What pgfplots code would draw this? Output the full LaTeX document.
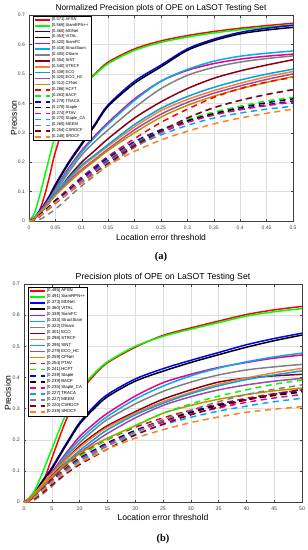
\documentclass[border=0pt]{standalone}
\usepackage{pgfplots}
\usepackage{pgfplotstable}
\pgfplotsset{compat=1.18}
\usepackage{fontspec}
\setmainfont{Liberation Sans}
\newfontfamily\serif{Liberation Serif}

\definecolor{cdred}{RGB}{136,0,21}
\definecolor{corange}{RGB}{255,127,39}
\definecolor{clblue}{RGB}{0,162,232}
\definecolor{cpurple}{RGB}{163,73,164}
\definecolor{cgold}{RGB}{191,144,0}
\definecolor{cgray}{rgb}{0.5,0.5,0.5}

% Normalized precision (a)
\pgfplotstableread{
x     afsn  siamrpn mdnet vital siamfc struct dsiam sint  strcf eco   ecohc cfnet hcft  bacf  traca staple ptav  stapleca meem  csrdcf srdcf
0     0     0       0     0     0      0      0     0     0     0     0     0     0     0     0     0      0     0        0     0      0
0.01  0.005 0.025   0.012 0.010 0.010  0.010  0.010 0.008 0.010 0.010 0.008 0.010 0.005 0.005 0.005 0.005  0.005 0.004    0.000 0.003  0.004
0.02  0.035 0.085   0.035 0.030 0.030  0.028  0.027 0.025 0.030 0.030 0.027 0.027 0.020 0.020 0.020 0.020  0.018 0.017    0.005 0.015  0.017
0.03  0.090 0.155   0.060 0.055 0.055  0.050  0.048 0.045 0.050 0.050 0.046 0.045 0.035 0.035 0.035 0.035  0.033 0.030    0.015 0.030  0.030
0.04  0.160 0.225   0.090 0.085 0.080  0.077  0.073 0.067 0.072 0.072 0.068 0.066 0.052 0.052 0.052 0.051  0.049 0.046    0.027 0.045  0.046
0.05  0.235 0.290   0.125 0.120 0.110  0.105  0.100 0.090 0.095 0.095 0.090 0.087 0.070 0.070 0.070 0.068  0.065 0.062    0.040 0.060  0.062
0.075 0.370 0.395   0.200 0.195 0.180  0.175  0.165 0.150 0.140 0.145 0.135 0.130 0.110 0.105 0.105 0.100  0.100 0.097    0.080 0.095  0.095
0.1   0.455 0.455   0.265 0.260 0.240  0.235  0.225 0.200 0.185 0.190 0.175 0.170 0.150 0.145 0.145 0.140  0.140 0.135    0.120 0.130  0.130
0.125 0.500 0.497   0.330 0.325 0.290  0.285  0.270 0.240 0.220 0.225 0.210 0.205 0.185 0.178 0.180 0.172  0.172 0.168    0.155 0.163  0.160
0.15  0.540 0.535   0.395 0.390 0.335  0.330  0.310 0.280 0.255 0.260 0.245 0.240 0.220 0.210 0.215 0.205  0.205 0.200    0.190 0.195  0.190
0.2   0.585 0.580   0.475 0.468 0.415  0.410  0.385 0.350 0.320 0.328 0.310 0.300 0.280 0.265 0.270 0.260  0.260 0.253    0.250 0.255  0.237
0.25  0.612 0.607   0.530 0.524 0.475  0.475  0.450 0.405 0.375 0.383 0.363 0.353 0.335 0.310 0.310 0.305  0.300 0.293    0.300 0.305  0.275
0.3   0.630 0.625   0.585 0.580 0.512  0.515  0.495 0.450 0.413 0.423 0.403 0.393 0.380 0.345 0.340 0.340  0.335 0.325    0.350 0.350  0.305
0.35  0.644 0.639   0.618 0.613 0.535  0.543  0.522 0.485 0.443 0.454 0.434 0.424 0.420 0.370 0.362 0.365  0.360 0.350    0.385 0.385  0.330
0.4   0.655 0.650   0.641 0.636 0.550  0.560  0.540 0.510 0.468 0.479 0.459 0.449 0.450 0.390 0.380 0.385  0.378 0.367    0.410 0.410  0.350
0.45  0.664 0.659   0.655 0.649 0.560  0.570  0.552 0.530 0.490 0.499 0.481 0.471 0.472 0.408 0.395 0.402  0.392 0.380    0.430 0.430  0.366
0.5   0.672 0.666   0.665 0.658 0.567  0.578  0.561 0.548 0.508 0.516 0.500 0.491 0.488 0.420 0.408 0.415  0.404 0.390    0.447 0.446  0.380
}\tabA

% Precision (b)
\pgfplotstableread{
x    afsn  siamrpn mdnet vital siamfc struct dsiam eco   strcf sint  ecohc cfnet ptav  hcft  staple bacf  stapleca traca meem  csrdcf srdcf
0    0     0       0     0     0      0      0     0     0     0     0     0     0     0     0      0     0        0     0     0      0
1    0.005 0.015   0.010 0.010 0.010  0.010  0.010 0.010 0.012 0.008 0.008 0.010 0.005 0.005 0.005  0.005 0.005    0.005 0.000 0.003  0.004
2    0.020 0.040   0.030 0.030 0.030  0.028  0.028 0.027 0.030 0.025 0.024 0.027 0.020 0.020 0.018  0.018 0.018    0.018 0.008 0.012  0.016
3    0.050 0.080   0.060 0.058 0.050  0.048  0.048 0.045 0.050 0.042 0.040 0.045 0.036 0.035 0.034  0.033 0.033    0.032 0.020 0.025  0.030
4    0.090 0.125   0.085 0.082 0.072  0.069  0.068 0.065 0.070 0.061 0.057 0.063 0.055 0.052 0.052  0.050 0.050    0.048 0.035 0.040  0.046
5    0.140 0.170   0.110 0.105 0.095  0.090  0.088 0.085 0.090 0.080 0.075 0.080 0.075 0.070 0.070  0.068 0.068    0.065 0.050 0.055  0.062
7.5  0.260 0.280   0.185 0.180 0.155  0.150  0.143 0.135 0.135 0.125 0.120 0.120 0.115 0.110 0.107  0.105 0.105    0.100 0.090 0.090  0.095
10   0.350 0.360   0.255 0.250 0.210  0.200  0.190 0.180 0.175 0.165 0.158 0.155 0.150 0.145 0.140  0.138 0.137    0.132 0.125 0.120  0.125
12.5 0.405 0.410   0.305 0.298 0.250  0.240  0.230 0.215 0.210 0.200 0.190 0.182 0.177 0.175 0.166  0.164 0.162    0.157 0.153 0.145  0.148
15   0.447 0.450   0.345 0.338 0.285  0.275  0.265 0.245 0.240 0.232 0.220 0.205 0.200 0.200 0.190  0.188 0.186    0.180 0.180 0.170  0.170
20   0.497 0.500   0.395 0.388 0.340  0.330  0.315 0.290 0.285 0.280 0.270 0.245 0.240 0.245 0.230  0.228 0.225    0.218 0.225 0.215  0.205
25   0.535 0.532   0.428 0.420 0.383  0.372  0.355 0.330 0.322 0.317 0.310 0.285 0.270 0.285 0.263  0.260 0.256    0.248 0.262 0.250  0.232
30   0.559 0.555   0.455 0.448 0.410  0.405  0.385 0.360 0.352 0.348 0.338 0.310 0.295 0.315 0.290  0.287 0.282    0.272 0.295 0.280  0.255
35   0.581 0.576   0.480 0.473 0.432  0.430  0.408 0.385 0.378 0.373 0.360 0.330 0.315 0.340 0.312  0.310 0.302    0.292 0.322 0.305  0.273
40   0.602 0.597   0.505 0.497 0.448  0.450  0.424 0.398 0.398 0.393 0.376 0.345 0.333 0.360 0.330  0.328 0.320    0.308 0.345 0.328  0.288
45   0.617 0.611   0.525 0.518 0.462  0.466  0.434 0.405 0.415 0.408 0.388 0.357 0.348 0.378 0.344  0.342 0.334    0.322 0.362 0.346  0.298
50   0.628 0.621   0.542 0.536 0.472  0.478  0.442 0.410 0.429 0.421 0.397 0.366 0.360 0.392 0.356  0.353 0.345    0.333 0.376 0.362  0.306
}\tabB

\pgfplotsset{
  sl/.style={line width=1.5pt, smooth, no marks},
  dl/.style={line width=1.5pt, smooth, no marks, dash pattern=on 6pt off 4.5pt},
  myaxis/.style={
    scale only axis,
    xmin=0, ymin=0, ymax=0.7,
    ytick={0,0.1,0.2,0.3,0.4,0.5,0.6,0.7},
    yticklabels={0,0.1,0.2,0.3,0.4,0.5,0.6,0.7},
    grid=major, grid style={black!13, line width=0.4pt},
    tick align=inside, major tick length=2.5pt,
    axis line style={line width=0.4pt, black!75},
    tick style={black!75, line width=0.4pt},
    ticklabel style={font=\fontsize{5}{6}\selectfont, text=black!75},
    xticklabel shift=1.8pt, yticklabel shift=0.6pt,
    /pgf/number format/assume math mode=true,
    every axis title shift=0pt,
    legend cell align=left,
    legend image code/.code={\draw[##1] (0pt,0pt) -- (15pt,0pt);},
    clip=true,
  },
}

\begin{document}
\begin{tikzpicture}
\path[use as bounding box] (0pt,0pt) rectangle (308pt,-550pt);

\begin{axis}[myaxis,
  at={(29pt,-221pt)}, anchor=south west,
  width=264pt, height=206pt,
  xmax=0.5,
  xtick={0,0.05,0.1,0.15,0.2,0.25,0.3,0.35,0.4,0.45,0.5},
  xticklabels={0,0.05,0.1,0.15,0.2,0.25,0.3,0.35,0.4,0.45,0.5},
  title={Normalized Precision plots of OPE on LaSOT Testing Set},
  title style={font=\fontsize{8.3}{10}\selectfont, at={(axis description cs:0.5,1)}, anchor=base, yshift=4.5pt},
  xlabel={Location error threshold},
  xlabel style={font=\fontsize{8.5}{10}\selectfont, at={(axis description cs:0.5,0)}, anchor=base, yshift=-19pt},
  ylabel={Precision},
  ylabel style={font=\fontsize{8.5}{10}\selectfont, at={(axis description cs:-0.0455,0.5)}, anchor=base},
  legend style={at={(axis description cs:0.015,0.995)}, anchor=north west,
    font=\fontsize{4.1}{4.5}\selectfont, draw=black, line width=0.4pt, fill=white,
    inner xsep=1.5pt, inner ysep=0.8pt, row sep=0pt,
    nodes={inner xsep=0.8pt, inner ysep=0pt, text height=3.4pt, text depth=2.45pt}},
]
\addplot[sl, red] table[x=x, y=afsn] {\tabA}; \addlegendentry{[0.571] AFSN}
\addplot[sl, green] table[x=x, y=siamrpn] {\tabA}; \addlegendentry{[0.569] SiamRPN++}
\addplot[sl, blue] table[x=x, y=mdnet] {\tabA}; \addlegendentry{[0.460] MDNet}
\addplot[sl, black] table[x=x, y=vital] {\tabA}; \addlegendentry{[0.453] VITAL}
\addplot[sl, magenta] table[x=x, y=siamfc] {\tabA}; \addlegendentry{[0.420] SiamFC}
\addplot[sl, cyan] table[x=x, y=struct] {\tabA}; \addlegendentry{[0.418] StructSiam}
\addplot[sl, cgray] table[x=x, y=dsiam] {\tabA}; \addlegendentry{[0.405] DSiam}
\addplot[sl, cdred] table[x=x, y=sint] {\tabA}; \addlegendentry{[0.354] SINT}
\addplot[sl, corange] table[x=x, y=strcf] {\tabA}; \addlegendentry{[0.340] STRCF}
\addplot[sl, clblue] table[x=x, y=eco] {\tabA}; \addlegendentry{[0.338] ECO}
\addplot[sl, cpurple] table[x=x, y=ecohc] {\tabA}; \addlegendentry{[0.320] ECO\_HC}
\addplot[sl, cgold] table[x=x, y=cfnet] {\tabA}; \addlegendentry{[0.312] CFNet}
\addplot[dl, red] table[x=x, y=hcft] {\tabA}; \addlegendentry{[0.286] HCFT}
\addplot[dl, green] table[x=x, y=bacf] {\tabA}; \addlegendentry{[0.283] BACF}
\addplot[dl, blue] table[x=x, y=traca] {\tabA}; \addlegendentry{[0.278] TRACA}
\addplot[dl, black] table[x=x, y=staple] {\tabA}; \addlegendentry{[0.278] Staple}
\addplot[dl, magenta] table[x=x, y=ptav] {\tabA}; \addlegendentry{[0.274] PTAV}
\addplot[dl, cyan] table[x=x, y=stapleca] {\tabA}; \addlegendentry{[0.270] Staple\_CA}
\addplot[dl, cgray] table[x=x, y=meem] {\tabA}; \addlegendentry{[0.265] MEEM}
\addplot[dl, cdred] table[x=x, y=csrdcf] {\tabA}; \addlegendentry{[0.254] CSRDCF}
\addplot[dl, corange] table[x=x, y=srdcf] {\tabA}; \addlegendentry{[0.248] SRDCF}
\end{axis}

\node[font=\serif\bfseries\fontsize{10.5}{12}\selectfont] at (161pt,-257pt) {(a)};

\begin{axis}[myaxis,
  at={(24pt,-502pt)}, anchor=south west,
  width=278pt, height=218pt,
  xmax=50,
  xtick={0,5,10,15,20,25,30,35,40,45,50},
  xticklabels={0,5,10,15,20,25,30,35,40,45,50},
  ticklabel style={font=\fontsize{5.2}{6}\selectfont},
  title={Precision plots of OPE on LaSOT Testing Set},
  title style={font=\fontsize{8.7}{10}\selectfont, at={(axis description cs:0.5,1)}, anchor=base, yshift=4.5pt},
  xlabel={Location error threshold},
  xlabel style={font=\fontsize{8.6}{10}\selectfont, at={(axis description cs:0.5,0)}, anchor=base, yshift=-18pt},
  ylabel={Precision},
  ylabel style={font=\fontsize{8.6}{10}\selectfont, at={(axis description cs:-0.0468,0.5)}, anchor=base},
  legend style={at={(axis description cs:0.0144,0.986)}, anchor=north west,
    font=\fontsize{4.3}{4.7}\selectfont, draw=black, line width=0.4pt, fill=white,
    inner xsep=1.5pt, inner ysep=0.8pt, row sep=0pt,
    nodes={inner xsep=0.8pt, inner ysep=0pt, text height=3.5pt, text depth=2.55pt}},
]
\addplot[sl, red] table[x=x, y=afsn] {\tabB}; \addlegendentry{[0.495] AFSN}
\addplot[sl, green] table[x=x, y=siamrpn] {\tabB}; \addlegendentry{[0.491] SiamRPN++}
\addplot[sl, blue] table[x=x, y=mdnet] {\tabB}; \addlegendentry{[0.373] MDNet}
\addplot[sl, black] table[x=x, y=vital] {\tabB}; \addlegendentry{[0.360] VITAL}
\addplot[sl, magenta] table[x=x, y=siamfc] {\tabB}; \addlegendentry{[0.339] SiamFC}
\addplot[sl, cyan] table[x=x, y=struct] {\tabB}; \addlegendentry{[0.333] StructSiam}
\addplot[sl, cgray] table[x=x, y=dsiam] {\tabB}; \addlegendentry{[0.322] DSiam}
\addplot[sl, cdred] table[x=x, y=eco] {\tabB}; \addlegendentry{[0.301] ECO}
\addplot[sl, corange] table[x=x, y=strcf] {\tabB}; \addlegendentry{[0.298] STRCF}
\addplot[sl, clblue] table[x=x, y=sint] {\tabB}; \addlegendentry{[0.295] SINT}
\addplot[sl, cpurple] table[x=x, y=ecohc] {\tabB}; \addlegendentry{[0.279] ECO\_HC}
\addplot[sl, cgold] table[x=x, y=cfnet] {\tabB}; \addlegendentry{[0.259] CFNet}
\addplot[dl, red] table[x=x, y=ptav] {\tabB}; \addlegendentry{[0.254] PTAV}
\addplot[dl, green] table[x=x, y=hcft] {\tabB}; \addlegendentry{[0.241] HCFT}
\addplot[dl, blue] table[x=x, y=staple] {\tabB}; \addlegendentry{[0.239] Staple}
\addplot[dl, black] table[x=x, y=bacf] {\tabB}; \addlegendentry{[0.239] BACF}
\addplot[dl, magenta] table[x=x, y=stapleca] {\tabB}; \addlegendentry{[0.235] Staple\_CA}
\addplot[dl, cyan] table[x=x, y=traca] {\tabB}; \addlegendentry{[0.227] TRACA}
\addplot[dl, cgray] table[x=x, y=meem] {\tabB}; \addlegendentry{[0.227] MEEM}
\addplot[dl, cdred] table[x=x, y=csrdcf] {\tabB}; \addlegendentry{[0.220] CSRDCF}
\addplot[dl, corange] table[x=x, y=srdcf] {\tabB}; \addlegendentry{[0.219] SRDCF}
\end{axis}

\node[font=\serif\bfseries\fontsize{10.5}{12}\selectfont] at (163pt,-539pt) {(b)};
\end{tikzpicture}
\end{document}
